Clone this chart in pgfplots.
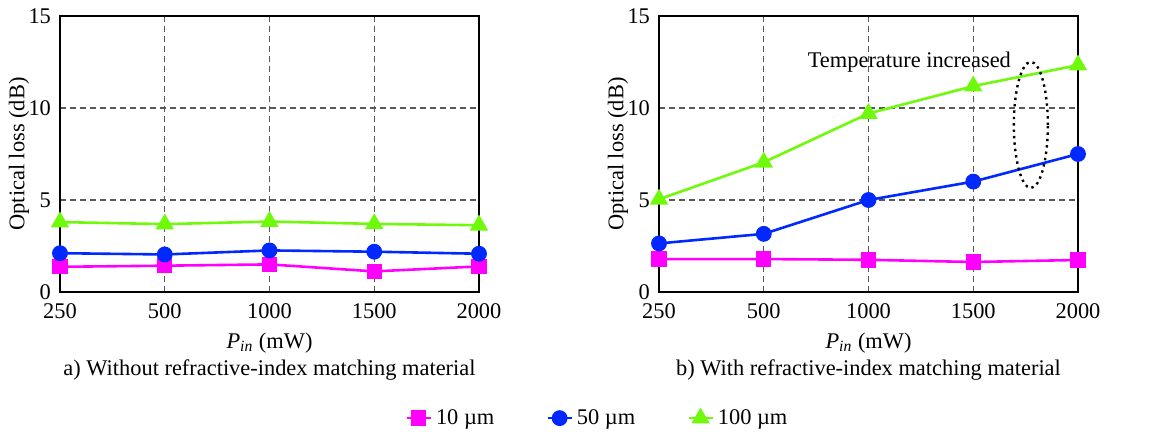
\documentclass[border=0pt]{standalone}
\usepackage{fontspec}
\setmainfont{Liberation Serif}
\usepackage{pgfplots}
\pgfplotsset{compat=1.18}
\definecolor{cmag}{RGB}{255,0,255}
\definecolor{cblue}{RGB}{0,40,255}
\definecolor{cgreen}{RGB}{110,250,10}
\newcommand{\ff}{\fontsize{11.2}{13.5}\selectfont}
\pgfplotsset{
  mystyle/.style={
    width=209.5pt, height=138pt, scale only axis,
    xmin=0, xmax=4, ymin=0, ymax=15,
    xtick={0,1,2,3,4}, xticklabels={250,500,1000,1500,2000},
    ytick={0,5,10,15},
    grid=major, grid style={dash pattern=on 3.2pt off 1.8pt, black!65, line width=0.7pt},
    major tick length=0pt,
    axis line style={line width=0.8pt},
    font=\ff,
    /pgf/number format/assume math mode=true,
    xticklabel style={yshift=-2.5pt},
    yticklabel style={xshift=-1pt},
    ylabel={Optical loss (dB)},
    ylabel style={at={(axis description cs:-0.098,0.5)}, anchor=center},
    xlabel={\textit{P}\textsubscript{\textit{in}} (mW)},
    xlabel style={at={(axis description cs:0.5,-0.185)}, anchor=center},
    clip=false,
  },
  s10/.style={color=cmag, line width=1.3pt, mark=square*, mark size=3.2pt},
  s50/.style={color=cblue, line width=1.3pt, mark=*, mark size=3.3pt},
  s100/.style={color=cgreen, line width=1.3pt, mark=triangle*, mark size=4pt},
}
\begin{document}
\begin{tikzpicture}
\begin{axis}[mystyle, at={(0pt,0pt)},
  legend style={at={(rel axis cs:1.285,-0.457)}, anchor=center, draw=none,
    legend columns=3, /tikz/every even column/.append style={column sep=24pt},
    font=\ff},
  legend image code/.code={\draw[#1] (0pt,0pt) -- (12pt,0pt); \draw[#1, mark repeat=2, mark phase=2] plot coordinates {(0pt,0pt) (6pt,0pt) (12pt,0pt)};}
]
\addplot[s10] coordinates {(0,1.37) (1,1.43) (2,1.50) (3,1.12) (4,1.39)};
\addplot[s50] coordinates {(0,2.11) (1,2.04) (2,2.26) (3,2.19) (4,2.08)};
\addplot[s100] coordinates {(0,3.80) (1,3.69) (2,3.83) (3,3.70) (4,3.63)};
\legend{10 µm, 50 µm, 100 µm}
\node[font=\ff] at (rel axis cs:0.5,-0.283) {a) Without refractive-index matching material};
\end{axis}
\begin{axis}[mystyle, at={(299.5pt,0pt)}]
\addplot[s10] coordinates {(0,1.79) (1,1.79) (2,1.75) (3,1.63) (4,1.74)};
\addplot[s50] coordinates {(0,2.64) (1,3.16) (2,5.00) (3,6.00) (4,7.50)};
\addplot[s100] coordinates {(0,5.04) (1,7.05) (2,9.70) (3,11.19) (4,12.33)};
\draw[dotted, line width=1.2pt] (axis cs:3.55,9.08) ellipse [x radius=8.5pt, y radius=31.5pt];
\node[font=\ff] at (axis cs:2.39,12.5) {Temperature increased};
\node[font=\ff] at (rel axis cs:0.5,-0.283) {b) With refractive-index matching material};
\end{axis}
\pgfresetboundingbox
\useasboundingbox (-30pt,-71pt) rectangle (545.5pt,146pt);
\end{tikzpicture}
\end{document}
